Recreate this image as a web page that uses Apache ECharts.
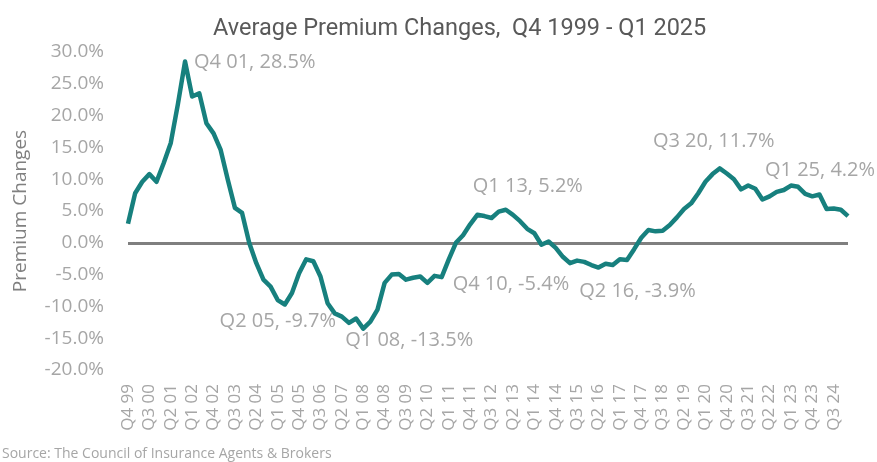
<!DOCTYPE html>
<html>
<head>
<meta charset="utf-8">
<script src="https://cdn.jsdelivr.net/npm/echarts@6/dist/echarts.min.js"></script>
<style>
  html, body { margin: 0; padding: 0; background: #fff; }
  #chart { width: 877px; height: 462px; }
</style>
</head>
<body>
<div id="chart"></div>
<script>
// 분기 라벨 (Q4 99 ~ Q1 25)
const quarters = [
  'Q4 99',
  'Q1 00','Q2 00','Q3 00','Q4 00','Q1 01','Q2 01','Q3 01','Q4 01',
  'Q1 02','Q2 02','Q3 02','Q4 02','Q1 03','Q2 03','Q3 03','Q4 03',
  'Q1 04','Q2 04','Q3 04','Q4 04','Q1 05','Q2 05','Q3 05','Q4 05',
  'Q1 06','Q2 06','Q3 06','Q4 06','Q1 07','Q2 07','Q3 07','Q4 07',
  'Q1 08','Q2 08','Q3 08','Q4 08','Q1 09','Q2 09','Q3 09','Q4 09',
  'Q1 10','Q2 10','Q3 10','Q4 10','Q1 11','Q2 11','Q3 11','Q4 11',
  'Q1 12','Q2 12','Q3 12','Q4 12','Q1 13','Q2 13','Q3 13','Q4 13',
  'Q1 14','Q2 14','Q3 14','Q4 14','Q1 15','Q2 15','Q3 15','Q4 15',
  'Q1 16','Q2 16','Q3 16','Q4 16','Q1 17','Q2 17','Q3 17','Q4 17',
  'Q1 18','Q2 18','Q3 18','Q4 18','Q1 19','Q2 19','Q3 19','Q4 19',
  'Q1 20','Q2 20','Q3 20','Q4 20','Q1 21','Q2 21','Q3 21','Q4 21',
  'Q1 22','Q2 22','Q3 22','Q4 22','Q1 23','Q2 23','Q3 23','Q4 23',
  'Q1 24','Q2 24','Q3 24','Q4 24','Q1 25'
];

// 평균 보험료 변동률 (%)
const premiumChange = [
  3.0,
  7.8, 9.6, 10.8, 9.6, 12.5, 15.7, 21.8, 28.5,
  23.0, 23.5, 18.8, 17.2, 14.6, 9.9, 5.5, 4.7,
  0.0, -3.2, -5.8, -6.9, -9.0, -9.7, -7.9, -4.8,
  -2.6, -2.9, -5.3, -9.5, -11.1, -11.6, -12.6, -11.9,
  -13.5, -12.4, -10.5, -6.3, -5.0, -4.9, -5.8, -5.5,
  -5.3, -6.3, -5.2, -5.4, -2.6, 0.0, 1.2, 2.9,
  4.4, 4.2, 3.9, 4.9, 5.2, 4.4, 3.4, 2.2,
  1.5, -0.3, 0.2, -0.8, -2.2, -3.2, -2.8, -3.0,
  -3.5, -3.9, -3.3, -3.5, -2.6, -2.7, -1.0, 0.8,
  2.0, 1.8, 1.9, 2.8, 4.0, 5.3, 6.2, 7.8,
  9.6, 10.8, 11.7, 10.9, 10.0, 8.4, 9.0, 8.5,
  6.8, 7.3, 8.0, 8.3, 9.0, 8.8, 7.7, 7.3,
  7.6, 5.3, 5.4, 5.2, 4.2
];

// 라벨 표시할 지점 (index)
const labeledIdx = [8, 22, 33, 44, 53, 66, 83, 101];

const yTicks = { min: -20, max: 30, step: 5 };

const FONT = "'Open Sans', sans-serif";
const GRAY = '#a6a6a6';

// 라벨 위치 (스타일)
const labelPlace = {
  8:   { position: 'right',  offset: [5, 1] },
  22:  { position: 'bottom', offset: [-7, 3] },
  33:  { position: 'right',  offset: [-22, 12] },
  44:  { position: 'right',  offset: [7, 7] },
  53:  { position: 'top',    offset: [22, -9] },
  66:  { position: 'bottom', offset: [39, 10] },
  83:  { position: 'top',    offset: [-6, -13] },
  101: { position: 'top',    offset: [-28, -32] }
};

const markPoints = labeledIdx.map(i => {
  const v = premiumChange[i];
  const p = labelPlace[i];
  return {
    coord: [quarters[i], v],
    label: {
      show: true,
      position: p.position,
      offset: p.offset,
      distance: 4,
      formatter: quarters[i] + ', ' + v.toFixed(1) + '%'
    }
  };
});

const chart = echarts.init(document.getElementById('chart'));
chart.setOption({
  animation: false,
  backgroundColor: '#fff',
  title: {
    text: 'Average Premium Changes,  Q4 1999 - Q1 2025',
    left: 208, top: 12,
    textStyle: { color: '#595959', fontFamily: 'Roboto, sans-serif', fontWeight: 'normal', fontSize: 23.5 }
  },
  graphic: [{
    type: 'text', left: 2, top: 447,
    style: { text: 'Source: The Council of Insurance Agents & Brokers', fill: '#a6a6a6', font: "14px 'Open Sans', sans-serif" }
  }],
  grid: { left: 128, right: 29, top: 52, bottom: 92 },
  xAxis: {
    type: 'category',
    data: quarters,
    boundaryGap: false,
    axisLine: { show: false },
    axisTick: { show: false },
    splitLine: { show: false },
    axisLabel: {
      interval: 2,
      rotate: 90,
      margin: 14,
      color: GRAY,
      fontFamily: FONT,
      fontSize: 17
    }
  },
  yAxis: {
    type: 'value',
    min: yTicks.min, max: yTicks.max, interval: yTicks.step,
    name: 'Premium Changes',
    nameLocation: 'middle',
    nameGap: 98,
    nameTextStyle: { color: '#808080', fontFamily: FONT, fontSize: 19 },
    axisLine: { show: false },
    axisTick: { show: false },
    splitLine: { show: false },
    axisLabel: {
      margin: 24,
      color: GRAY,
      fontFamily: FONT,
      fontSize: 19,
      formatter: v => v.toFixed(1) + '%'
    }
  },
  series: [{
    name: 'Premium Changes',
    type: 'line',
    data: premiumChange,
    symbol: 'none',
    lineStyle: { color: '#17807e', width: 4.5, join: 'round' },
    itemStyle: { color: '#17807e' },
    z: 3,
    markPoint: {
      symbol: 'circle', symbolSize: 0, silent: true, animation: false,
      label: { color: GRAY, fontFamily: FONT, fontSize: 20 },
      data: markPoints
    },
    markLine: {
      symbol: 'none', silent: true, animation: false,
      label: { show: false },
      lineStyle: { color: '#7f7f7f', type: 'solid', width: 3 },
      data: [{ yAxis: 0 }],
      z: 2
    }
  }]
});
</script>
</body>
</html>
